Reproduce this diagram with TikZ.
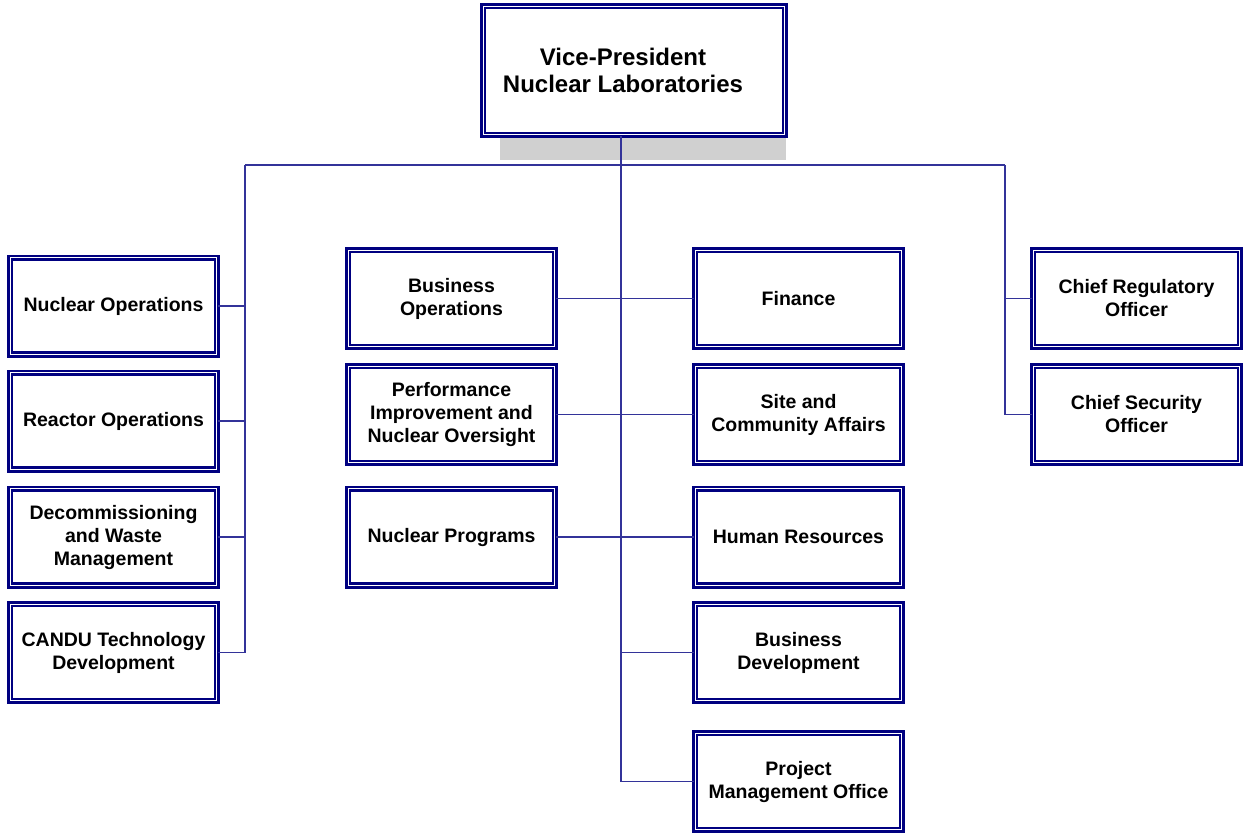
\documentclass[tikz,border=0pt]{standalone}
\usepackage{fontspec}
\setmainfont{Liberation Sans}
\definecolor{boxblue}{HTML}{000080}
\definecolor{linkblue}{HTML}{333399}
\definecolor{shadowgray}{HTML}{D0D0D0}
\begin{document}
\begin{tikzpicture}[x=1pt,y=-1pt,
  orgbox/.style={draw=boxblue, double=white, double distance=1.2pt, line width=2.6pt,
    fill=white, minimum width=206.6pt, minimum height=96.6pt, inner sep=0pt,
    align=center, font=\bfseries\fontsize{19.5}{23}\selectfont},
  topbox/.style={orgbox, minimum width=301.6pt, minimum height=128.6pt},
  toptext/.style={align=center, inner sep=0pt, font=\bfseries\fontsize{24}{27}\selectfont},
  link/.style={draw=linkblue, line width=1.6pt},
  spine/.style={draw=linkblue, line width=2.2pt}]
\useasboundingbox (0,0) rectangle (1244,836);
% shadow
\fill[shadowgray] (500,22) rectangle (786,160);
% spine coordinates
\coordinate (lt) at (245,165);
\coordinate (rt) at (1005,165);
\coordinate (ct) at (621,165);
% nodes
\node[topbox] (vp) at (634,70.5) {};
\node[toptext] (vpt) at (623,70.5) {Vice-President\\Nuclear Laboratories};
\node[orgbox] (no) at (113.5,306) {Nuclear Operations};
\node[orgbox] (ro) at (113.5,421) {Reactor Operations};
\node[orgbox] (dw) at (113.5,537) {Decommissioning\\and Waste\\Management};
\node[orgbox] (cd) at (113.5,652.5) {CANDU Technology\\Development};
\node[orgbox] (bo) at (451.5,298.5) {Business\\Operations};
\node[orgbox] (pi) at (451.5,414.5) {Performance\\Improvement and\\Nuclear Oversight};
\node[orgbox] (np) at (451.5,537) {Nuclear Programs};
\node[orgbox] (fi) at (798.5,298.5) {Finance};
\node[orgbox] (sc) at (798.5,414.5) {Site and\\Community Affairs};
\node[orgbox] (hr) at (798.5,537) {Human Resources};
\node[orgbox] (bd) at (798.5,652.5) {Business\\Development};
\node[orgbox] (pm) at (798.5,781.5) {Project\\Management Office};
\node[orgbox] (cr) at (1136.5,298.5) {Chief Regulatory\\Officer};
\node[orgbox] (cs) at (1136.5,414.5) {Chief Security\\Officer};
% connectors
\draw[link] (lt) -- (rt);
\draw[spine] (vp.south -| ct) -- (pm.west -| ct);
\draw[link] (pm.west -| ct) -- (pm.west);
\draw[link] (bd.west -| ct) -- (bd.west);
\draw[link] (bo.east) -- (fi.west);
\draw[link] (pi.east) -- (sc.west);
\draw[link] (np.east) -- (hr.west);
\draw[link] (lt) -- (cd.east -| lt) -- (cd.east);
\draw[link] (no.east) -- (no.east -| lt);
\draw[link] (ro.east) -- (ro.east -| lt);
\draw[link] (dw.east) -- (dw.east -| lt);
\draw[link] (rt) -- (cs.west -| rt) -- (cs.west);
\draw[link] (cr.west) -- (cr.west -| rt);
\end{tikzpicture}
\end{document}
